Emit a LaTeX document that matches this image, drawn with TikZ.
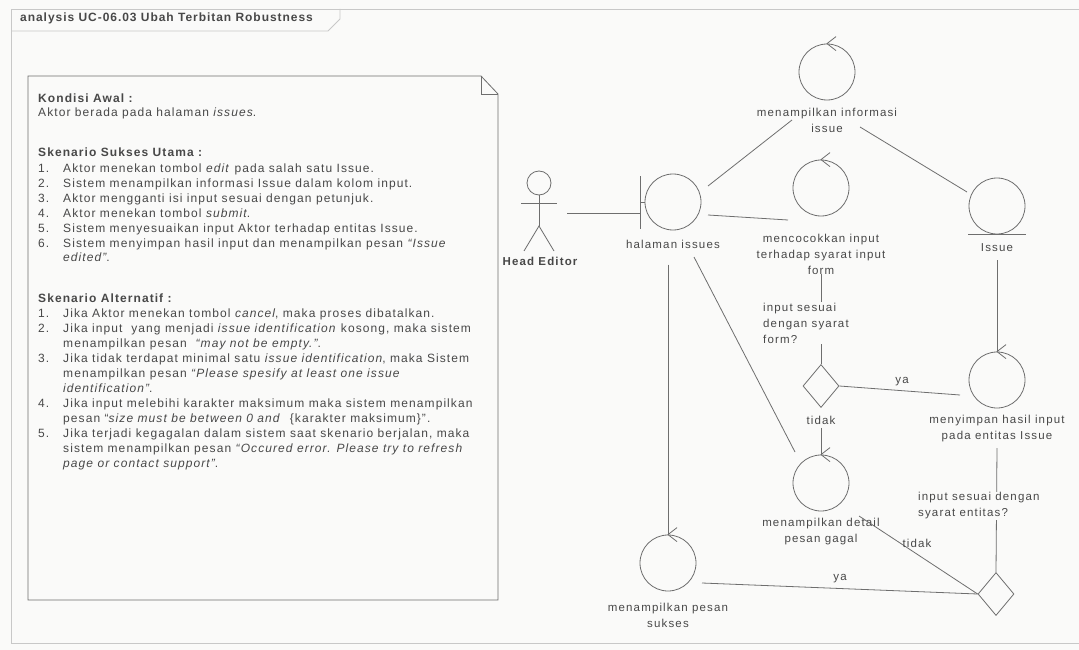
\documentclass[tikz,border=0pt]{standalone}
\usepackage{fontspec}
\setmainfont{Liberation Sans}
\usetikzlibrary{shapes.geometric,calc}
\definecolor{bg}{RGB}{250,250,249}
\definecolor{ln}{RGB}{110,110,110}
\definecolor{tx}{RGB}{72,72,72}
\definecolor{fr}{RGB}{200,200,200}
\newcommand\lblfont{\fontsize{11.5}{16}\selectfont\addfontfeature{LetterSpace=10}}
\newcommand\notefont{\fontsize{12}{15}\selectfont\addfontfeature{LetterSpace=9}}
\newcommand\ctlarrow[1]{\draw[con] ($(#1.north)+(9,-7)$) -- (#1.north) -- ($(#1.north)+(9,7)$);}
\begin{document}
\begin{tikzpicture}[x=1pt,y=-1pt,
  con/.style={draw=ln,line width=0.8pt},
  ctl/.style={circle,draw=ln,line width=0.8pt,minimum size=56pt,inner sep=0pt},
  dec/.style={diamond,draw=ln,line width=0.8pt,minimum width=36pt,minimum height=43pt,inner sep=0pt},
  lbl/.style={text=tx,font=\lblfont,align=center,inner sep=1pt},
  cond/.style={text=tx,font=\lblfont,align=left,inner sep=1pt,anchor=west,fill=bg},
  nt/.style={anchor=base west,text=tx,font=\notefont,inner sep=0pt}]
\useasboundingbox (0,0) rectangle (1079,650);
\fill[bg] (0,0) rectangle (1079,650);
% frame
\draw[fr,line width=0.8pt] (1079,9) -- (11,9) -- (11,643) -- (1079,643);
\draw[fr,line width=0.8pt] (11,31) -- (328,31) -- (340,19) -- (340,9);
\node[anchor=base west,text=tx,font=\fontsize{12}{15}\selectfont\addfontfeature{LetterSpace=8}\bfseries,inner sep=0pt] (title) at (20,22) {analysis UC-06.03 Ubah Terbitan Robustness};
% note
\draw[ln,line width=0.8pt] (28,76) -- (481,76) -- (498,94) -- (498,600) -- (28,600) -- cycle;
\draw[ln,line width=0.8pt] (481,76) -- (481,94) -- (498,94);
\node[nt,font=\notefont\bfseries] (n1) at (38,103) {Kondisi Awal :};
\node[nt] (n2) at (38,117) {Aktor berada pada halaman \textit{issues}.};
\node[nt,font=\notefont\bfseries] (n3) at (38,157) {Skenario Sukses Utama :};
\node[nt] (n4a) at (38,172) {1.};  \node[nt] (n4) at (63,172) {Aktor menekan tombol \textit{edit} pada salah satu Issue.};
\node[nt] (n5a) at (38,187) {2.};  \node[nt] (n5) at (63,187) {Sistem menampilkan informasi Issue dalam kolom input.};
\node[nt] (n6a) at (38,202) {3.};  \node[nt] (n6) at (63,202) {Aktor mengganti isi input sesuai dengan petunjuk.};
\node[nt] (n7a) at (38,217) {4.};  \node[nt] (n7) at (63,217) {Aktor menekan tombol \textit{submit}.};
\node[nt] (n8a) at (38,232) {5.};  \node[nt] (n8) at (63,232) {Sistem menyesuaikan input Aktor terhadap entitas Issue.};
\node[nt] (n9a) at (38,247) {6.};  \node[nt] (n9) at (63,247) {Sistem menyimpan hasil input dan menampilkan pesan \textit{“Issue}};
\node[nt] (n10) at (63,261) {\textit{edited”}.};
\node[nt,font=\notefont\bfseries] (n11) at (38,302) {Skenario Alternatif :};
\node[nt] (a1a) at (38,317) {1.}; \node[nt] (a1) at (63,317) {Jika Aktor menekan tombol \textit{cancel}, maka proses dibatalkan.};
\node[nt] (a2a) at (38,332) {2.}; \node[nt] (a2) at (63,332) {Jika input\ \ yang menjadi \textit{issue identification} kosong, maka sistem};
\node[nt] (a2b) at (63,347) {menampilkan pesan\ \ \textit{“may not be empty.”}.};
\node[nt] (a3a) at (38,362) {3.}; \node[nt] (a3) at (63,362) {Jika tidak terdapat minimal satu \textit{issue identification}, maka Sistem};
\node[nt] (a3b) at (63,377) {menampilkan pesan \textit{“Please spesify at least one issue}};
\node[nt] (a3c) at (63,392) {\textit{identification”}.};
\node[nt] (a4a) at (38,407) {4.}; \node[nt] (a4) at (63,407) {Jika input melebihi karakter maksimum maka sistem menampilkan};
\node[nt] (a4b) at (63,422) {pesan “\textit{size must be between 0 and}\ \ \{karakter maksimum\}”.};
\node[nt] (a5a) at (38,437) {5.}; \node[nt] (a5) at (63,437) {Jika terjadi kegagalan dalam sistem saat skenario berjalan, maka};
\node[nt] (a5b) at (63,452) {sistem menampilkan pesan \textit{“Occured error. Please try to refresh}};
\node[nt] (a5c) at (63,467) {\textit{page or contact support”}.};
% actor
\coordinate (act) at (539,183);
\draw[con] (act) circle (12);
\draw[con] ($(act)+(0,12)$) -- ($(act)+(0,43)$);
\draw[con] ($(act)+(-18,20)$) -- ($(act)+(18,20)$);
\draw[con] ($(act)+(-15,68)$) -- ($(act)+(0,43)$) -- ($(act)+(15,68)$);
\node[lbl,font=\lblfont\bfseries] (actlbl) at (540,261) {Head Editor};
% boundary
\node[ctl] (bnd) at (673,202) {};
\coordinate (bar) at ($(bnd.west)+(-4,0)$);
\draw[con] ($(bar)+(0,-26)$) -- ($(bar)+(0,27)$);
\draw[con] (bar) -- (bnd.west);
\node[lbl] (bndlbl) at (673,244) {halaman issues};
% controls / entity
\node[ctl] (info) at (827,72) {}; \ctlarrow{info}
\node[lbl] (infolbl) at (827,120) {menampilkan informasi\\issue};
\node[ctl] (menc) at (821,188) {}; \ctlarrow{menc}
\node[lbl] (menclbl) at (821,254) {mencocokkan input\\terhadap syarat input\\form};
\node[ctl] (iss) at (997,206) {};
\draw[con] ($(iss.south)+(-29,0)$) -- ($(iss.south)+(29,0)$);
\node[lbl] (isslbl) at (997,248) {Issue};
\node[dec] (dia1) at (821,386) {};
\node[ctl] (mys) at (997,380) {}; \ctlarrow{mys}
\node[lbl] (myslbl) at (997,429) {menyimpan hasil input\\pada entitas Issue};
\node[ctl] (gagal) at (821,483) {}; \ctlarrow{gagal}
\node[lbl] (gagallbl) at (821,532) {menampilkan detail\\pesan gagal};
\node[ctl] (sukses) at (668,563) {}; \ctlarrow{sukses}
\node[lbl] (sukseslbl) at (668,615) {menampilkan pesan\\sukses};
\node[dec] (dia2) at (996,594) {};
% connectors
\draw[con] ($(act)+(28,30)$) -- ($(bar)+(0,11)$);
\draw[con] ($(bnd)+(35,-16)$) -- ($(info)+(-35,48)$);
\draw[con] ($(info)+(33,55)$) -- ($(iss)+(-30,-14)$);
\draw[con] ($(bnd)+(35,13)$) -- ($(menc)+(-33,32)$);
\draw[con] ($(sukses.north)+(0,-270)$) -- (sukses.north);
\draw[con] ($(bnd)+(21,55)$) -- ($(gagal)+(-26,-31)$);
\draw[con] ($(dia1.north)+(0,-90)$) -- (dia1.north);
\node[cond] (c1) at (762,323) {input sesuai\\dengan syarat\\form?};
\draw[con] (dia1.east) -- ($(mys)+(-37,15)$);
\node[lbl] (ya1) at (902,382) {ya};
\draw[con] ($(iss)+(0,54)$) -- (mys.north);
\draw[con] ($(dia1.south)+(0,20)$) -- (gagal.north);
\node[lbl] (tidak1) at (821,420) {tidak};
\draw[con] ($(mys)+(0,68)$) -- (dia2.north);
\node[cond] (c2) at (917,506) {input sesuai dengan\\syarat entitas?};
\draw[con] (dia2.west) -- ($(sukses)+(34,20)$);
\node[lbl] (ya2) at (840,579) {ya};
\draw[con] (dia2.west) -- ($(gagal)+(38,33)$);
\node[lbl] (tidak2) at (917,543) {tidak};
\end{tikzpicture}
\end{document}
